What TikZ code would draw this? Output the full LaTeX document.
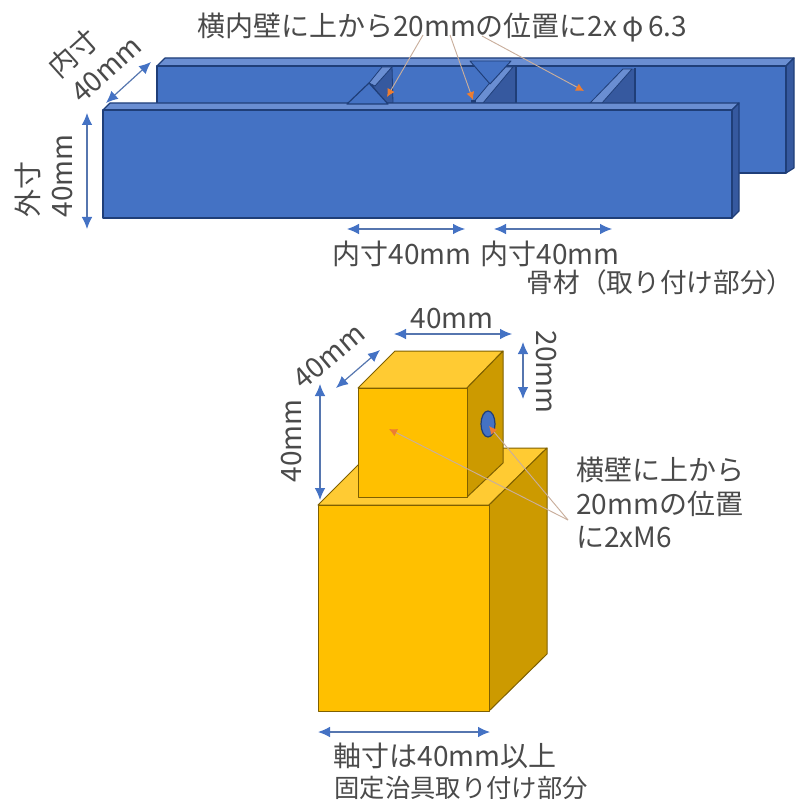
\documentclass[tikz,border=0pt]{standalone}
\usepackage{fontspec}
\setmainfont{Noto Sans CJK JP}
\usetikzlibrary{arrows.meta}
\definecolor{bF}{HTML}{4472C4}
\definecolor{bT}{HTML}{6A8ED2}
\definecolor{bS}{HTML}{36599F}
\definecolor{bE}{HTML}{1F3E78}
\definecolor{yF}{HTML}{FFC000}
\definecolor{yT}{HTML}{FFCB33}
\definecolor{yS}{HTML}{CC9A00}
\definecolor{yE}{HTML}{7F6000}
\definecolor{leader}{HTML}{C9AE9C}
\definecolor{tip}{HTML}{ED7D31}
\definecolor{txt}{HTML}{4A4A4A}
\tikzset{
  x=0.75pt,y=-0.75pt,
  barface/.style={fill=#1,draw=bE,line width=0.9pt,line join=round},
  cubeface/.style={fill=#1,draw=yE,line width=0.75pt,line join=round},
  dim/.style={draw=bF!70!gray,line width=0.9pt,{Latex[length=9pt,width=8pt,color=bF]}-{Latex[length=9pt,width=8pt,color=bF]}},
  lead/.style={draw=leader,line width=0.7pt,-{Latex[length=6pt,width=6pt,color=tip]}},
  leadplain/.style={draw=leader,line width=0.7pt},
  lab/.style={text=txt,font=\fontsize{21}{25}\selectfont,inner sep=0pt,align=center},
}
\begin{document}
\begin{tikzpicture}
\useasboundingbox (0,0) rectangle (795,805);
% back bar
\draw[barface=bT] (157,66)--(165,58)--(794,58)--(786,66)--cycle;
\draw[barface=bS] (786,66)--(794,58)--(794,168)--(786,173)--cycle;
\draw[barface=bF] (157,66) rectangle (786,173);
% rib 1
\draw[barface=bS,line width=0.6pt] (392,66)--(393,103)--(385,103)--(372,85)--cycle;
\draw[barface=bT,line width=0.6pt] (369,83)--(382,67)--(392,67)--(375,86)--cycle;
% rib 2
\draw[draw=none,fill=bS] (513,67)--(516,67)--(516,103)--(483,103)--cycle;
\draw[bE,line width=0.9pt] (516,66)--(516,103);
\draw[barface=bT,line width=0.6pt] (473,103)--(503,67)--(513,67)--(483,103)--cycle;
\draw[barface=bF,line width=0.7pt] (470,61)--(511,61)--(490,84)--cycle;
\fill[bE] (471,100) rectangle (476,103);
% rib 3
\draw[draw=none,fill=bS] (632,69)--(635,69)--(635,103)--(602,103)--cycle;
\draw[bE,line width=0.9pt] (635,68)--(635,103);
\draw[barface=bT,line width=0.6pt] (590,103)--(623,69)--(632,69)--(602,103)--cycle;
% front bar
\draw[barface=bT] (103,110)--(110,103)--(739,103)--(732,110)--cycle;
\draw[barface=bS] (732,110)--(739,103)--(739,211)--(732,218)--cycle;
\draw[barface=bF] (103,110) rectangle (732,218);
% triangle of rib 1 sits over the front bar's back edge
\draw[barface=bF] (347,104)--(388,104)--(369,83)--cycle;
% top leaders
\coordinate (t1) at (423,35); \coordinate (h1) at (387,97);
\coordinate (t2) at (450,35); \coordinate (h2) at (473,100);
\coordinate (t3) at (482,36); \coordinate (h3) at (584,91);
\draw[lead] (t1)--(h1);
\draw[lead] (t2)--(h2);
\draw[lead] (t3)--(h3);
% big cube
\draw[cubeface=yT] (318,505)--(375,448)--(547,448)--(489,505)--cycle;
\draw[cubeface=yS] (489,505)--(547,448)--(547,654)--(489,711)--cycle;
\draw[cubeface=yF] (318,505) rectangle (489,711);
% small cube
\draw[cubeface=yT] (358,388)--(395,351)--(503,351)--(467,388)--cycle;
\draw[cubeface=yS] (467,388)--(503,351)--(503,463)--(467,497)--cycle;
\draw[cubeface=yF] (358,388) rectangle (467,497);
\draw[fill=bF,draw=bE,line width=0.9pt] (488,424) ellipse [x radius=7,y radius=13];
% cube leaders
\coordinate (c0) at (568,520);
\coordinate (c1) at (389,429);
\coordinate (c2) at (489,426);
\coordinate (c3) at (505,445);
\draw[lead] (c0)--(c1);
\draw[leadplain] (c0)--(c3);
\draw[lead] (c3)--(c2);
% dimension arrows
\coordinate (d1a) at (106,103); \coordinate (d1b) at (151,62);
\draw[dim] (d1a)--(d1b);
\coordinate (d2a) at (87,113); \coordinate (d2b) at (87,229);
\draw[dim] (d2a)--(d2b);
\coordinate (d3a) at (347,229); \coordinate (d3b) at (465,229);
\draw[dim] (d3a)--(d3b);
\coordinate (d4a) at (494,229); \coordinate (d4b) at (612,229);
\draw[dim] (d4a)--(d4b);
\coordinate (d5a) at (394,334); \coordinate (d5b) at (512,334);
\draw[dim] (d5a)--(d5b);
\coordinate (d6a) at (336,388); \coordinate (d6b) at (380,350);
\draw[dim] (d6a)--(d6b);
\coordinate (d7a) at (320,384); \coordinate (d7b) at (320,500);
\draw[dim] (d7a)--(d7b);
\coordinate (d8a) at (523,342); \coordinate (d8b) at (523,399);
\draw[dim] (d8a)--(d8b);
\coordinate (d9a) at (318,732); \coordinate (d9b) at (490,732);
\draw[dim] (d9a)--(d9b);
% labels
\node[lab,font=\fontsize{21}{25}\selectfont] (l1) at (442,28) {横内壁に上から20mmの位置に2x\,φ\,6.3};
\node[lab,rotate=42,align=left] (l2) at (94,56) {内寸\\40mm};
\node[lab,rotate=90,align=left] (l3) at (44,176) {外寸\\40mm};
\node[lab] (l4) at (402,254) {内寸40mm};
\node[lab] (l5) at (550,254) {内寸40mm};
\node[lab,font=\fontsize{20}{24}\selectfont] (l6) at (660,282) {骨材（取り付け部分）};
\node[lab] (l7) at (452,319) {40mm};
\node[lab,rotate=40] (l8) at (329,356) {40mm};
\node[lab,rotate=90] (l9) at (292,441) {40mm};
\node[lab,rotate=-90] (l10) at (546,372) {20mm};
\node[lab,align=left,anchor=west] (l11) at (576,503) {横壁に上から\\20mmの位置\\に2xM6};
\node[lab] (l12) at (445,756) {軸寸は40mm以上};
\node[lab,font=\fontsize{19}{23}\selectfont] (l13) at (461,788) {固定治具取り付け部分};
\end{tikzpicture}
\end{document}
